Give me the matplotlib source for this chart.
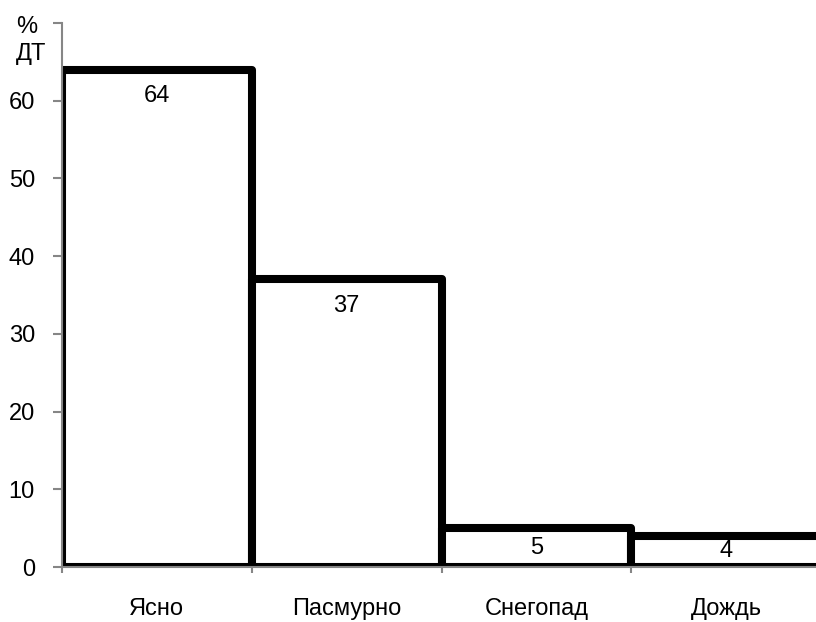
import matplotlib.pyplot as plt
import numpy as np

plt.rcParams['font.family'] = ['Liberation Sans Narrow', 'Liberation Sans', 'DejaVu Sans']

# Погода и доля ДТП, %
categories = ['Ясно', 'Пасмурно', 'Снегопад', 'Дождь']
values = [64, 37, 5, 4]

W, H = 816, 622
fig = plt.figure(figsize=(W / 100, H / 100), dpi=100)
# ось x уходит чуть за правый край рисунка
ax = fig.add_axes([62 / W, 55 / H, 759 / W, 544 / H])

x = np.arange(len(categories)) + 0.5
bars = ax.bar(x, values, width=1.0, color='white', edgecolor='black',
              linewidth=5.8, joinstyle='round')

for xi, v in zip(x, values):
    ax.text(xi, v - min(3.4, v / 2), str(v), ha='center', va='center',
            fontsize=17)

ax.set_xlim(0, len(categories))
ax.set_ylim(0, 70)

ax.set_yticks(np.arange(0, 71, 10))
ax.set_yticklabels([str(t) for t in range(0, 61, 10)] + [''])

ax.set_xticks(np.arange(len(categories) + 1))
ax.set_xticklabels([])
ax.set_xticks(x, minor=True)
ax.set_xticklabels(categories, minor=True)

gray = '#868686'
for side in ['top', 'right']:
    ax.spines[side].set_visible(False)
for side in ['left', 'bottom']:
    ax.spines[side].set_color(gray)
    ax.spines[side].set_linewidth(1.5)

ax.tick_params(axis='y', direction='out', length=6.5, width=1.5, color=gray,
               pad=13, labelsize=17)
ax.tick_params(axis='x', which='major', direction='out', length=4.5, width=1.5,
               color=gray)
ax.tick_params(axis='x', which='minor', length=0, pad=22, labelsize=17)

fig.text(16 / W, 1 - 16 / H, '%', ha='left', va='top', fontsize=17)
fig.text(16 / W, 1 - 43 / H, 'ДТ', ha='left', va='top', fontsize=17)

fig.savefig('out.png', dpi=100)
